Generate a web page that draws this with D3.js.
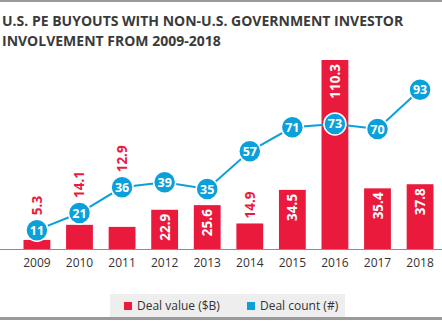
<!DOCTYPE html>
<html>
<head>
<meta charset="utf-8">
<script src="https://cdn.jsdelivr.net/npm/d3@7"></script>
<style>
  body { margin: 0; background: #fff; }
  text { font-family: "Open Sans", sans-serif; }
</style>
</head>
<body>
<div id="chart"></div>
<script>
// Chart data
let years = ["2009", "2010", "2011", "2012", "2013", "2014", "2015", "2016", "2017", "2018"];
let dealValue = [5.3, 14.1, 12.9, 22.9, 25.6, 14.9, 34.5, 110.3, 35.4, 37.8];
let dealCount = [11, 21, 36, 39, 35, 57, 71, 73, 70, 93];
let legendLabels = ["Deal value ($B)", "Deal count (#)"];
let titleLines = ["U.S. PE BUYOUTS WITH NON-U.S. GOVERNMENT INVESTOR", "INVOLVEMENT FROM 2009-2018"];

let red = "#ea1a3d", blue = "#0ca0db";
let W = 442, H = 321;
let baseY = 249;

let svg = d3.select("#chart").append("svg")
    .attr("width", W)
    .attr("height", H);

// top and bottom rules
svg.append("rect").attr("x", 0).attr("y", 0).attr("width", W).attr("height", 2).attr("fill", "#9a9a9a");
svg.append("rect").attr("x", 0).attr("y", 317).attr("width", W).attr("height", 3).attr("fill", "#9a9a9a");

svg.selectAll(".title")
    .data(titleLines)
    .enter().append("text")
    .attr("class", "title")
    .attr("x", 2)
    .attr("y", (d, i) => 26 + i * 20)
    .attr("fill", "#3a3a3a")
    .style("font-size", "14px")
    .style("font-weight", "bold")
    .text(d => d);

let xScale = d3.scaleBand()
    .domain(years)
    .range([15, 442])
    .paddingInner(0.37)
    .paddingOuter(0.2);

// same px-per-unit for both series
let yScale = d3.scaleLinear()
    .domain([0, 110.3])
    .range([baseY, 60]);

svg.selectAll(".bar")
    .data(dealValue)
    .enter().append("rect")
    .attr("class", "bar")
    .attr("x", (d, i) => xScale(years[i]))
    .attr("width", xScale.bandwidth())
    .attr("y", d => yScale(d))
    .attr("height", d => baseY - yScale(d))
    .attr("fill", red);

// x axis
let xAxis = svg.append("g")
    .attr("transform", `translate(0,${baseY})`)
    .call(d3.axisBottom(xScale).tickSize(0).tickPadding(9));
xAxis.select(".domain").attr("d", `M0,0.5H${W}`).attr("stroke", "#8c8c8c");
xAxis.selectAll("text")
    .style("font-size", "12px")
    .style("font-family", "'Open Sans', sans-serif")
    .attr("fill", "#333");

// line
let cx = i => xScale(years[i]) + xScale.bandwidth() / 2;
let line = d3.line()
    .x((d, i) => cx(i))
    .y(d => yScale(d));

svg.append("path")
    .datum(dealCount)
    .attr("fill", "none")
    .attr("stroke", blue)
    .attr("stroke-width", 2)
    .attr("d", line);

// value labels: inside tall bars, red above small ones (or above the circle if it sits close)
let insideMin = 20;
svg.selectAll(".vlabel")
    .data(dealValue)
    .enter().append("text")
    .attr("class", "vlabel")
    .attr("transform", (d, i) => {
        let y;
        let barTop = yScale(d), dot = yScale(dealCount[i]);
        if (d >= insideMin) y = barTop + 4;
        else if (barTop - dot < 50) y = dot - 15;
        else y = barTop - 5;
        return `translate(${cx(i) + 5},${y}) rotate(-90)`;
    })
    .attr("text-anchor", d => d >= insideMin ? "end" : "start")
    .attr("fill", d => d >= insideMin ? "#fff" : red)
    .style("font-size", "13.5px")
    .style("font-weight", "bold")
    .text(d => d);

// count points
let pts = svg.selectAll(".pt")
    .data(dealCount)
    .enter().append("g")
    .attr("class", "pt")
    .attr("transform", (d, i) => `translate(${cx(i)},${yScale(d)})`);

pts.append("circle")
    .attr("r", 11)
    .attr("fill", blue)
    .attr("stroke", "#fff")
    .attr("stroke-width", 1.5);

pts.append("text")
    .attr("text-anchor", "middle")
    .attr("dy", "0.36em")
    .attr("fill", "#fff")
    .style("font-size", "12.5px")
    .style("font-weight", "bold")
    .text(d => d);

// legend
let legend = svg.append("g");
legend.append("rect")
    .attr("x", 110).attr("y", 294)
    .attr("width", 235).attr("height", 23)
    .attr("fill", "#eeeeee");

let legendColors = [red, blue];
let legendX = [124, 247];
legendLabels.forEach((lab, i) => {
    legend.append("rect")
        .attr("x", legendX[i]).attr("y", 302)
        .attr("width", 8).attr("height", 8)
        .attr("fill", legendColors[i]);
    legend.append("text")
        .attr("x", legendX[i] + 13)
        .attr("y", 310)
        .attr("fill", "#333")
        .style("font-size", "12px")
        .text(lab);
});
</script>
</body>
</html>
